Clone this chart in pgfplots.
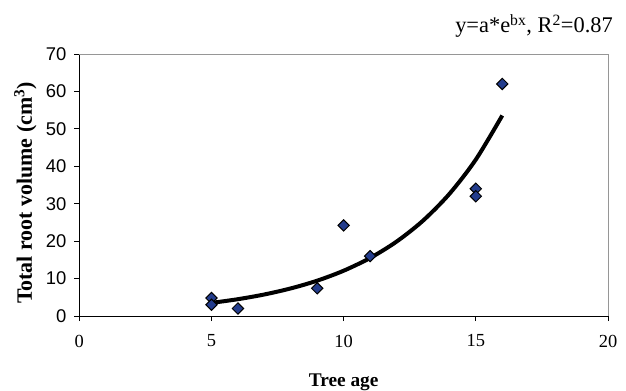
\documentclass[border=0pt]{standalone}
\usepackage{pgfplots}
\pgfplotsset{compat=1.18}
\usepackage{fontspec}
\setmainfont{Liberation Serif}
\setsansfont{Liberation Sans}
\definecolor{markblue}{RGB}{35,60,140}
\definecolor{boxgray}{RGB}{150,150,150}
\begin{document}
\begin{tikzpicture}
\useasboundingbox (-79.3bp,-75bp) rectangle (546.7bp,316bp);
\begin{axis}[
  at={(0,0)}, anchor=south west,
  scale only axis,
  width=528.7bp, height=262bp,
  xmin=0, xmax=20, ymin=0, ymax=70,
  xtick={0,5,...,20}, ytick={0,10,...,70},
  axis x line*=bottom, axis y line*=left,
  axis line style={black, line width=0.8pt},
  tick align=outside, major tick length=5bp,
  tick style={black, line width=0.8pt},
  xticklabel style={font=\fontsize{18.5}{20}\selectfont, anchor=center, yshift=-20bp},
  yticklabel style={font=\sffamily\fontsize{18.5}{20}\selectfont, anchor=east, inner sep=0pt, xshift=-7.6bp},
  /pgf/number format/assume math mode=true,
  xlabel={\textbf{Tree age}},
  ylabel={\textbf{Total root volume (cm\textsuperscript{3})}},
  xlabel style={font=\fontsize{19.4}{21}\selectfont, at={(axis description cs:0.5,0)}, anchor=base, yshift=-70bp, inner sep=0pt},
  ylabel style={font=\fontsize{22}{24}\selectfont, at={([xshift=-54bp,yshift=-8bp]axis description cs:0,0.5)}, anchor=center, inner sep=0pt},
  clip=false,
]
\draw[boxgray, line width=1pt] (rel axis cs:0,1) -- (rel axis cs:1,1) -- (rel axis cs:1,0);
\addplot[black, line width=4bp, smooth, no marks] coordinates {
 (5,3.50) (6,4.49) (7,5.75) (8,7.37) (9,9.44) (10,12.10) (11,15.50)
 (12,19.87) (13,25.46) (14,32.62) (15,41.80) (16,53.57)
};
\addplot[only marks, mark=square*, mark size=4bp,
  mark options={rotate=45, fill=markblue, draw=black, line width=1pt}] coordinates {
 (5,4.8) (5,3.0) (6,2.0) (9,7.4) (10,24.2) (11,16.0) (15,34.0) (15,32.0) (16,62.0)
};
\node[anchor=base east, font=\fontsize{22.5}{24}\selectfont, inner sep=0pt]
  at ([xshift=5bp,yshift=21bp]rel axis cs:1,1) {y=a*e\textsuperscript{bx}, R\textsuperscript{2}=0.87};
\end{axis}
\end{tikzpicture}
\end{document}
